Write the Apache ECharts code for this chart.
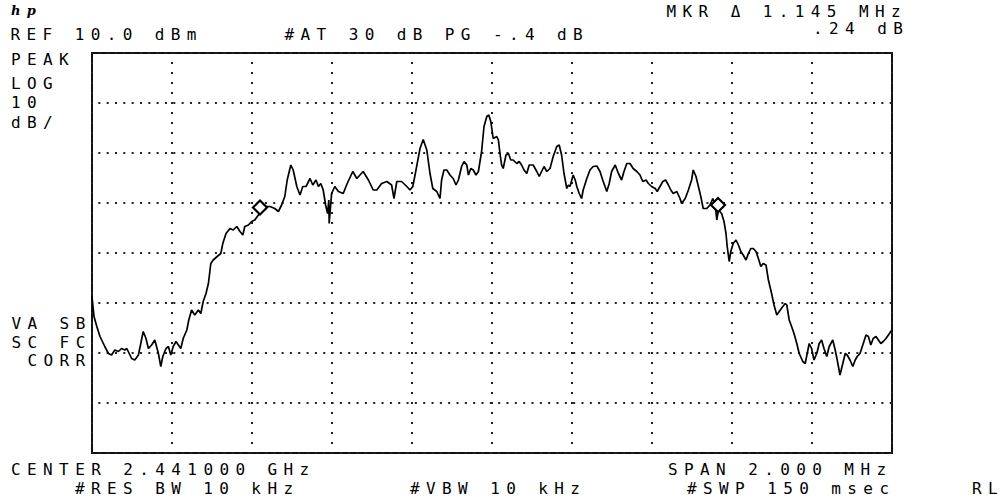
<!DOCTYPE html>
<html>
<head>
<meta charset="utf-8">
<script src="https://cdn.jsdelivr.net/npm/echarts@6/dist/echarts.min.js"></script>
<style>
  html, body { margin: 0; padding: 0; background: #fff; }
  #chart { width: 1003px; height: 501px; }
  #chart text { letter-spacing: 6.4px; }
</style>
</head>
<body>
<div id="chart"></div>
<script>
// Frequency offset from centre (kHz) and trace level (dBm)
const freqKHz = [
  -1000, -995, -988, -980, -968, -959, -951, -943, -934, -926,
  -918, -913, -907, -901, -893, -884, -878, -872, -865, -859,
  -851, -843, -834, -828, -823, -815, -809, -803, -797, -790,
  -784, -778, -772, -763, -758, -751, -743, -734, -728, -722,
  -715, -709, -703, -697, -687, -678, -673, -665, -655, -647,
  -638, -630, -623, -618, -609, -601, -593, -584, -576, -568,
  -555, -543, -534, -526, -518, -512, -503, -497, -488, -480,
  -473, -465, -455, -448, -440, -434, -428, -422, -416, -411,
  -408, -407, -401, -393, -384, -372, -362, -348, -338, -322,
  -309, -297, -288, -276, -263, -251, -245, -238, -226, -213,
  -205, -198, -190,
  -180, -172, -163, -155, -148, -138, -130, -126, -120, -113,
  -105, -97, -90, -84, -76, -70, -63, -59, -53, -47,
  -40, -34, -30, -26, -20, -13, -8, -3, 3, 12,
  16, 20, 24, 28, 35, 41, 47, 53, 62, 68,
  74, 80, 87, 93, 103, 112, 118, 124, 130, 137,
  145, 153, 162, 168, 174, 180, 187, 191, 195, 203,
  208, 212, 218, 224, 228, 237, 245, 253, 262, 270,
  278, 287, 293, 299, 308, 316, 324, 330, 337, 345,
  353, 362, 370, 377, 385, 391, 399, 408, 413, 420,
  427, 434, 441, 447, 453, 462, 470, 474, 483, 491,
  499, 503, 510, 516, 522, 528, 537, 545, 552, 558,
  562, 566, 574, 580, 585, 588, 593, 597, 603, 610,
  616, 622, 628, 635, 641, 647, 653, 660, 666, 672,
  678, 685, 691, 699, 705, 712, 718, 727, 733, 737,
  743, 749, 755, 762, 768, 777, 783, 788, 793, 799,
  805, 812, 818, 824, 830, 837, 843, 852, 858, 863,
  870, 877, 883, 888, 895, 902, 908, 913, 920, 927,
  935, 941, 947, 953, 960, 966, 972, 978, 985, 991,
  997, 1000
];
const levelDbm = [
  -38.7, -42.7, -44.7, -46.7, -48.7, -50.1, -50.4, -49.4, -49.7, -49.1,
  -49.4, -49.1, -50.1, -51.1, -51.4, -50.4, -48.1, -45.7, -47.1, -49.1,
  -48.4, -47.4, -50.1, -52.7, -50.7, -49.1, -48.7, -50.4, -48.7, -47.7,
  -48.4, -49.1, -47.1, -45.4, -43.4, -41.4, -42.4, -41.4, -42.1, -39.7,
  -38.1, -36.1, -32.1, -31.4, -30.7, -30.1, -28.1, -26.1, -25.1, -25.4,
  -24.7, -25.7, -26.4, -24.7, -24.4, -23.7, -23.4, -22.4, -21.4, -20.7,
  -20.7, -21.1, -21.7, -20.4, -18.7, -15.4, -12.4, -13.4, -16.7, -18.4,
  -16.7, -16.7, -15.1, -16.4, -15.4, -16.7, -16.1, -17.4, -20.4, -22.1,
  -19.4, -24.1, -18.1, -16.7, -17.7, -18.1, -16.1, -13.7, -15.1, -13.7,
  -15.4, -17.4, -17.4, -16.1, -15.7, -16.4, -19.1, -15.7, -15.7, -16.7,
  -17.4, -16.7, -13.4,
  -9.1, -7.3, -9.4, -14.1, -17.1, -17.7, -19.1, -15.4, -13.4, -13.4,
  -14.4, -15.1, -16.4, -15.4, -12.7, -11.7, -12.4, -14.4, -13.1, -13.4,
  -14.4, -13.7, -11.7, -9.7, -4.7, -2.7, -2.4, -3.7, -7.1, -6.7,
  -7.4, -10.1, -12.4, -13.1, -10.4, -10.1, -11.4, -11.4, -12.1, -11.7,
  -12.4, -13.4, -14.1, -12.4, -12.4, -13.7, -14.7, -13.7, -12.7, -13.7,
  -13.1, -10.7, -8.7, -8.4, -10.4, -14.1, -17.1, -16.4, -16.7, -14.4,
  -15.4, -16.7, -18.1, -19.1, -17.4, -15.1, -13.4, -12.7, -12.6, -13.7,
  -15.7, -17.7, -16.1, -13.7, -12.4, -14.1, -15.4, -13.7, -12.1, -12.1,
  -13.1, -13.7, -14.4, -15.7, -15.4, -16.1, -16.7, -17.1, -17.7, -16.7,
  -15.7, -15.4, -16.4, -17.4, -18.1, -17.7, -19.1, -20.1, -19.1, -17.4,
  -15.4, -13.4, -14.7, -16.7, -18.7, -21.1, -21.1, -20.4, -19.1, -20.4,
  -23.4, -21.4, -22.1, -23.7, -26.1, -28.7, -31.7, -29.7, -28.1, -27.4,
  -28.4, -29.7, -30.4, -31.4, -30.1, -29.1, -29.1, -29.7, -31.1, -32.7,
  -32.1, -32.4, -35.4, -38.1, -40.4, -42.4, -41.7, -40.7, -40.1, -40.4,
  -43.4, -44.7, -46.1, -48.1, -50.1, -51.7, -52.1, -50.1, -48.1, -49.1,
  -51.4, -50.1, -48.1, -47.4, -49.1, -50.7, -48.7, -47.4, -49.4, -51.4,
  -54.4, -52.1, -50.1, -50.4, -51.4, -52.7, -51.4, -50.7, -50.1, -48.4,
  -46.4, -46.7, -48.4, -47.1, -46.7, -47.4, -48.1, -47.7, -47.1, -46.4,
  -45.7, -45.4
];
// Markers (reference marker and delta marker)
const markerFreqKHz = [-580, 565];
const markerLevelDbm = [-20.9, -20.4];

// Screen annotations
const logoText = 'hp';
const headerLeft = ['REF 10.0 dBm', '#AT 30 dB PG -.4 dB'];
const headerRight = ['MKR Δ 1.145 MHz', '.24 dB'];
const sideTop = ['PEAK', 'LOG', '10', 'dB/'];
const sideBottom = ['VA SB', 'SC FC', 'CORR'];
const footerRow1 = ['CENTER 2.441000 GHz', 'SPAN 2.000 MHz'];
const footerRow2 = ['#RES BW 10 kHz', '#VBW 10 kHz', '#SWP 150 msec', 'RL'];

const FONT = '16px "DejaVu Sans Mono", monospace';
function txt(s, x, y, font) {
  return {
    type: 'text', x: x, y: y, z: 100, silent: true,
    style: { text: s, font: font || FONT, fill: '#000', align: 'left', verticalAlign: 'middle', lineHeight: 14 }
  };
}

const graphics = [
  txt(logoText, 11, 10, 'italic bold 13px "DejaVu Serif", serif'),
  txt(headerLeft[0], 10.5, 34),
  txt(headerLeft[1], 284.5, 34),
  txt(headerRight[0], 666.5, 11),
  txt(headerRight[1], 813, 28.5),
  txt(sideTop[0], 11, 59),
  txt(sideTop[1], 11, 83),
  txt(sideTop[2], 11, 102.5),
  txt(sideTop[3], 11, 122),
  txt(sideBottom[0], 11.5, 323),
  txt(sideBottom[1], 11.5, 342),
  txt(sideBottom[2], 27.5, 360.5),
  txt(footerRow1[0], 11, 469),
  txt(footerRow1[1], 668, 469),
  txt(footerRow2[0], 75, 488),
  txt(footerRow2[1], 410, 488),
  txt(footerRow2[2], 687, 488),
  txt(footerRow2[3], 972, 488)
];

const traceData = freqKHz.map((f, i) => [f, levelDbm[i]]);
const markerData = markerFreqKHz.map((f, i) => [f, markerLevelDbm[i]]);

const chart = echarts.init(document.getElementById('chart'), null, { renderer: 'svg' });
chart.setOption({
  animation: false,
  backgroundColor: '#fff',
  grid: {
    left: 92, top: 53, width: 800, height: 400,
    show: true, borderColor: '#111', borderWidth: 2, backgroundColor: 'transparent'
  },
  xAxis: {
    type: 'value', min: -1000, max: 1000, interval: 200,
    axisLine: { show: false }, axisTick: { show: false }, axisLabel: { show: false },
    splitLine: { show: true, lineStyle: { color: '#222', width: 2, type: [2, 8], dashOffset: 1 } }
  },
  yAxis: {
    type: 'value', min: -70, max: 10, interval: 10,
    axisLine: { show: false }, axisTick: { show: false }, axisLabel: { show: false },
    splitLine: { show: true, lineStyle: { color: '#222', width: 2, type: [2, 6.33], dashOffset: 2 } }
  },
  series: [
    {
      type: 'line', data: traceData, showSymbol: false, symbol: 'none',
      lineStyle: { color: '#000', width: 1.7 }, z: 5
    },
    {
      type: 'scatter', data: markerData, symbol: 'diamond', symbolSize: 14,
      itemStyle: { color: '#fff', borderColor: '#000', borderWidth: 2.2, opacity: 1 }, z: 6
    }
  ],
  graphic: graphics
});
</script>
</body>
</html>
